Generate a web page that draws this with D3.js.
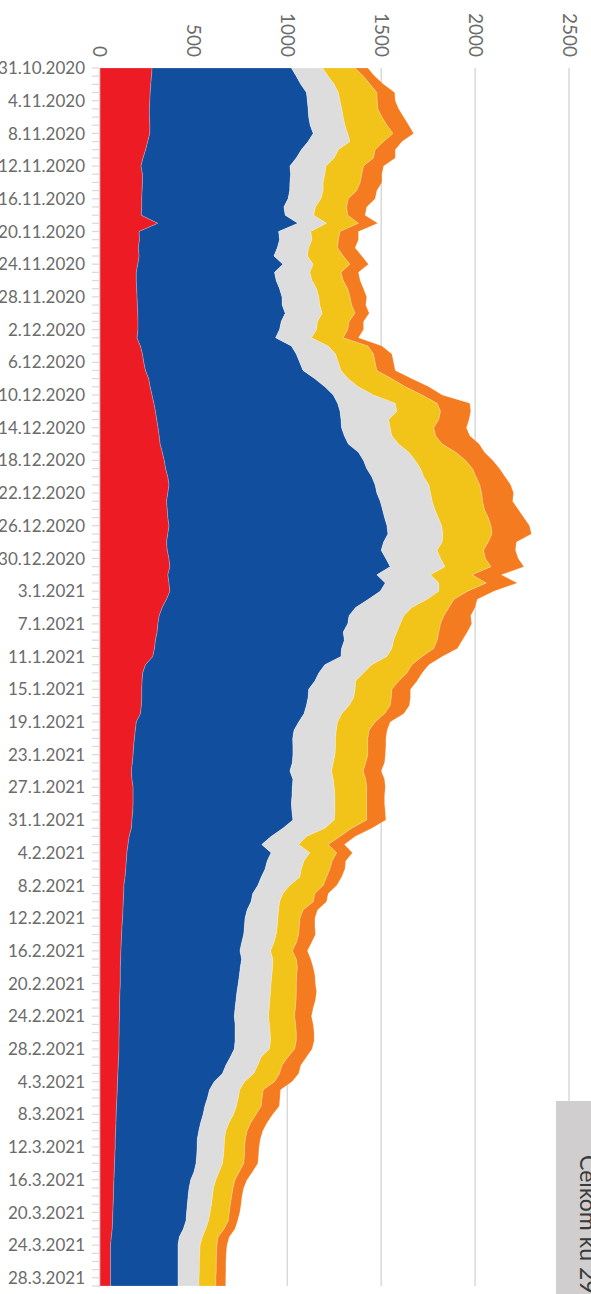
<!DOCTYPE html>
<html>
<head>
<meta charset="utf-8">
<script src="https://cdn.jsdelivr.net/npm/d3@7/dist/d3.min.js"></script>
<style>
	html, body { margin: 0; padding: 0; background: #ffffff; }
	svg { display: block; }
	text { font-family: Lato, "Open Sans", sans-serif; }
</style>
</head>
<body>
<svg id="chart" width="591" height="1294"></svg>
<script>
"use strict";

/* global d3 */

// daily values, 31.10.2020 .. 29.3.2021 (150 days), stacked left to right
var firstDay = new Date(2020, 9, 31);
var dayCount = 150;

var redValues = [
	280, 277, 273, 270, 268, 266, 266, 268, 268, 257, 246, 232, 221, 229, 229, 227, 225, 225, 223, 311, 211, 213, 207, 211, 204,
	196, 196, 198, 200, 202, 204, 205, 205, 200, 218, 229, 236, 245, 262, 270, 280, 290, 298, 305, 312, 318, 323, 335, 345, 352,
	364, 370, 364, 357, 361, 364, 370, 364, 357, 361, 370, 375, 364, 370, 375, 357, 334, 318, 311, 307, 298, 293, 284, 245, 230,
	227, 225, 225, 223, 218, 196, 191, 186, 182, 179, 175, 170, 173, 179, 179, 179, 177, 173, 170, 158, 152, 146, 143, 140, 136,
	130, 129, 127, 125, 123, 120, 118, 116, 114, 113, 111, 111, 111, 109, 107, 107, 107, 105, 105, 104, 104, 102, 100, 98, 96,
	95, 93, 91, 89, 88, 86, 84, 84, 82, 80, 79, 77, 75, 75, 73, 71, 70, 68, 63, 59, 59, 59, 59, 59, 59
];
var blueValues = [
	742, 771, 799, 832, 839, 845, 848, 854, 870, 854, 829, 816, 793, 789, 785, 786, 779, 757, 766, 746, 743, 746, 740, 718, 773,
	736, 745, 761, 772, 771, 785, 763, 754, 738, 804, 819, 830, 839, 885, 930, 965, 978, 983, 981, 977, 986, 1002, 1044, 1061, 1071,
	1086, 1098, 1113, 1138, 1146, 1154, 1161, 1172, 1156, 1139, 1155, 1173, 1113, 1152, 1120, 1075, 1030, 1011, 1011, 991, 1006, 996, 1002, 955, 938,
	920, 889, 886, 879, 871, 865, 845, 843, 848, 851, 852, 844, 857, 848, 846, 843, 848, 857, 807, 756, 712, 768, 750, 742, 725,
	713, 687, 680, 661, 652, 652, 650, 641, 634, 644, 639, 634, 628, 623, 620, 615, 611, 617, 617, 618, 614, 595, 573, 557, 515,
	491, 482, 470, 463, 451, 443, 437, 436, 436, 434, 425, 409, 402, 397, 395, 393, 391, 379, 362, 359, 359, 359, 359, 359, 359
];
var greyValues = [
	166, 170, 178, 170, 174, 179, 184, 185, 184, 223, 197, 202, 192, 182, 177, 178, 175, 168, 152, 152, 171, 173, 167, 178, 161,
	188, 191, 197, 196, 200, 197, 193, 197, 191, 196, 209, 206, 202, 178, 179, 214, 307, 303, 254, 259, 253, 268, 268, 276, 286,
	277, 286, 286, 277, 279, 286, 291, 293, 312, 298, 291, 292, 286, 285, 312, 313, 300, 291, 280, 286, 262, 268, 244, 250, 238,
	217, 247, 243, 227, 201, 207, 225, 228, 227, 224, 218, 222, 215, 223, 229, 232, 229, 220, 223, 188, 197, 206, 196, 193, 205,
	170, 161, 152, 168, 175, 175, 173, 172, 163, 166, 172, 173, 175, 179, 180, 182, 182, 183, 187, 189, 187, 164, 170, 167, 161,
	161, 164, 168, 162, 152, 144, 145, 144, 143, 141, 134, 134, 130, 130, 129, 125, 120, 119, 123, 118, 116, 114, 114, 112, 112
];
var yellowValues = [
	173, 188, 191, 205, 198, 192, 206, 224, 241, 179, 196, 209, 200, 197, 197, 179, 146, 166, 181, 170, 156, 140, 154, 191, 196,
	166, 166, 166, 166, 170, 175, 168, 166, 169, 211, 202, 196, 191, 232, 250, 259, 223, 232, 267, 232, 233, 232, 250, 268, 277,
	278, 271, 272, 268, 264, 266, 263, 261, 245, 247, 239, 245, 222, 253, 153, 143, 197, 214, 214, 223, 232, 223, 188, 214, 231,
	229, 196, 200, 219, 228, 200, 175, 172, 172, 175, 173, 168, 173, 173, 169, 169, 169, 173, 143, 179, 157, 143, 150, 152, 143,
	178, 170, 179, 130, 118, 117, 120, 119, 116, 125, 132, 132, 134, 137, 140, 139, 139, 140, 139, 137, 134, 143, 129, 137, 160,
	125, 127, 132, 120, 116, 113, 111, 109, 111, 113, 107, 102, 104, 102, 100, 102, 105, 98, 84, 89, 89, 90, 90, 90, 90
];
var orangeValues = [
	68, 60, 72, 95, 96, 111, 116, 116, 110, 98, 107, 116, 107, 107, 116, 107, 143, 107, 92, 103, 98, 107, 93, 99, 98,
	93, 90, 84, 89, 75, 75, 77, 84, 81, 75, 98, 98, 98, 107, 125, 107, 174, 161, 161, 174, 182, 197, 153, 145, 144,
	155, 165, 170, 160, 180, 190, 205, 210, 150, 170, 175, 175, 155, 165, 140, 124, 139, 143, 166, 152, 134, 126, 107, 90, 81,
	98, 99, 102, 102, 102, 80, 96, 96, 96, 93, 100, 96, 100, 99, 95, 95, 99, 102, 107, 80, 86, 84, 72, 80, 80,
	72, 71, 71, 77, 79, 83, 89, 81, 80, 77, 84, 97, 102, 108, 103, 95, 90, 93, 95, 95, 93, 98, 100, 102, 93,
	92, 95, 96, 89, 86, 84, 80, 77, 75, 75, 71, 64, 57, 55, 57, 56, 50, 58, 59, 54, 52, 51, 51, 52, 52
];

var seriesKeys = ["red", "blue", "grey", "yellow", "orange"];
var seriesColors = ["#ed1c24", "#114e9e", "#dddddd", "#f2c318", "#f47b20"];
var valueTicks = [0, 500, 1000, 1500, 2000, 2500];
var legendText = "Celkom ku 29.3.2021";

// build the table d3.stack wants
var days = d3.timeDay.range(firstDay, d3.timeDay.offset(firstDay, dayCount));
var table = days.map(function(day, i) {
	return {
		date: day,
		red: redValues[i],
		blue: blueValues[i],
		grey: greyValues[i],
		yellow: yellowValues[i],
		orange: orangeValues[i]
	};
});
var labelDays = days.filter(function(d, i) {
	return i % 4 === 0;
});

var svg = d3.select("#chart");

// value runs left -> right, time runs top -> bottom
var x = d3.scaleLinear().domain([0, 2500]).range([99.5, 569]);
var y = d3.scaleTime().domain([days[0], days[days.length - 1]]).range([68, 1286]);

// vertical gridlines
svg.append("g")
	.selectAll("line")
	.data(valueTicks.slice(1))
	.join("line")
	.attr("x1", function(d) { return x(d); })
	.attr("x2", function(d) { return x(d); })
	.attr("y1", 68)
	.attr("y2", 1286)
	.attr("stroke", "#d9d9d9")
	.attr("stroke-width", 1.5);

// stacked areas
var stacked = d3.stack().keys(seriesKeys)(table);
var area = d3.area()
	.y(function(d) { return y(d.data.date); })
	.x0(function(d) { return x(d[0]); })
	.x1(function(d) { return x(d[1]); });

svg.append("g")
	.selectAll("path")
	.data(stacked)
	.join("path")
	.attr("d", area)
	.attr("fill", function(d, i) { return seriesColors[i]; })
	.attr("stroke", "#ffffff")
	.attr("stroke-opacity", 0.35)
	.attr("stroke-width", 0.6);

// date axis on the left
var dateAxis = svg.append("g");
dateAxis.append("line")
	.attr("x1", 99.5)
	.attr("x2", 99.5)
	.attr("y1", 68)
	.attr("y2", 1287)
	.attr("stroke", "#d9d9d9")
	.attr("stroke-width", 1.5);

dateAxis.selectAll("line.tick")
	.data(days)
	.join("line")
	.attr("class", "tick")
	.attr("x1", 92)
	.attr("x2", 99)
	.attr("y1", function(d) { return y(d); })
	.attr("y2", function(d) { return y(d); })
	.attr("stroke", "#d9d9d9")
	.attr("stroke-width", 1.2);

var dateFormat = d3.timeFormat("%-d.%-m.%Y");
dateAxis.selectAll("text")
	.data(labelDays)
	.join("text")
	.attr("x", 85)
	.attr("y", function(d) { return y(d); })
	.attr("dy", "0.36em")
	.attr("text-anchor", "end")
	.attr("font-size", 17)
	.attr("fill", "#6b6b6b")
	.text(function(d) { return dateFormat(d); });

// value labels on top, turned a quarter clockwise
svg.append("g")
	.selectAll("text")
	.data(valueTicks)
	.join("text")
	.attr("transform", function(d) { return "translate(" + (x(d) - 6.5) + ",57) rotate(90)"; })
	.attr("text-anchor", "end")
	.attr("font-size", 19)
	.attr("fill", "#6b6b6b")
	.text(function(d) { return d; });

// legend box, cut by the right edge
var legend = svg.append("g");
legend.append("rect")
	.attr("x", 556)
	.attr("y", 1101)
	.attr("width", 60)
	.attr("height", 220)
	.attr("fill", "#d0cece");
legend.append("text")
	.attr("transform", "translate(580,1155) rotate(90)")
	.attr("font-size", 23)
	.attr("fill", "#3a3a3a")
	.text(legendText);
</script>
</body>
</html>
